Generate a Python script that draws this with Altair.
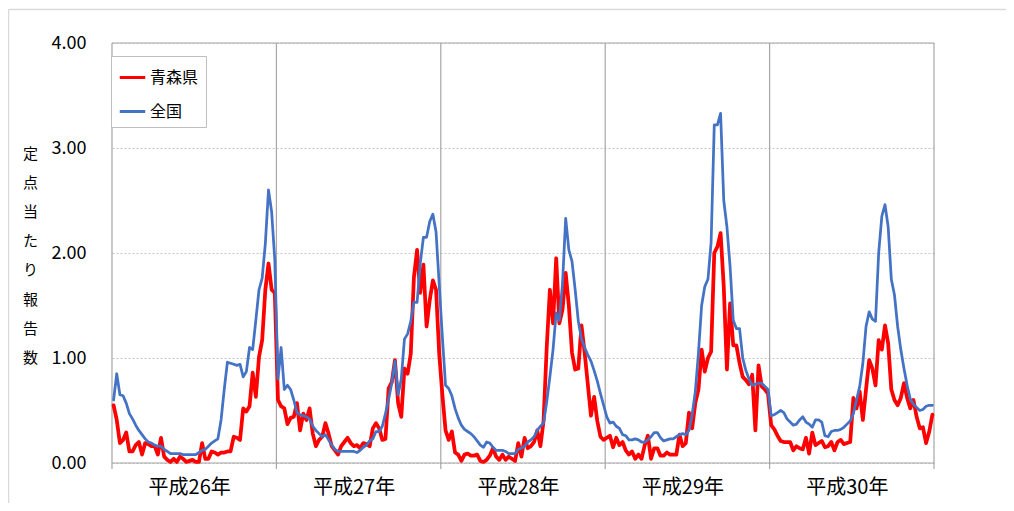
import json
import altair as alt
import pandas as pd

FONT = "Noto Sans CJK JP"

years = ["平成26年", "平成27年", "平成28年", "平成29年", "平成30年"]
series_names = ["青森県", "全国"]
series_colors = ["#FF0000", "#4472C4"]
y_title = "定点当たり報告数"
y_ticks = [0, 1, 2, 3, 4]

# 青森県 (weekly, 52 weeks per year)
aomori_h26 = [0.55, 0.41, 0.19, 0.22, 0.29, 0.11, 0.11, 0.17, 0.20, 0.08,
              0.19, 0.18, 0.16, 0.16, 0.08, 0.24, 0.06, 0.03, 0.01, 0.04,
              0.01, 0.06, 0.04, 0.01, 0.02, 0.03, 0.01, 0.01, 0.19, 0.04,
              0.04, 0.11, 0.10, 0.08, 0.10, 0.10, 0.11, 0.11, 0.25, 0.24,
              0.22, 0.52, 0.49, 0.54, 0.86, 0.63, 1.01, 1.17, 1.65, 1.90,
              1.65, 1.62]
aomori_h27 = [0.60, 0.54, 0.52, 0.37, 0.43, 0.44, 0.57, 0.31, 0.47, 0.41,
              0.52, 0.28, 0.16, 0.22, 0.25, 0.38, 0.28, 0.16, 0.12, 0.08,
              0.16, 0.20, 0.24, 0.19, 0.16, 0.17, 0.14, 0.19, 0.18, 0.16,
              0.33, 0.38, 0.33, 0.22, 0.23, 0.71, 0.77, 0.98, 0.57, 0.44,
              0.90, 0.85, 1.04, 1.77, 2.03, 1.62, 1.89, 1.30, 1.55, 1.74,
              1.65, 1.04]
aomori_h28 = [0.65, 0.31, 0.22, 0.30, 0.10, 0.08, 0.02, 0.08, 0.09, 0.07,
              0.07, 0.08, 0.02, 0.01, 0.03, 0.07, 0.14, 0.06, 0.03, 0.08,
              0.03, 0.06, 0.04, 0.02, 0.19, 0.06, 0.24, 0.14, 0.16, 0.20,
              0.31, 0.16, 0.40, 1.10, 1.65, 1.33, 1.95, 1.33, 1.46, 1.81,
              1.50, 1.05, 0.89, 0.90, 1.31, 1.05, 0.75, 0.45, 0.63, 0.40,
              0.25, 0.22]
aomori_h29 = [0.24, 0.26, 0.15, 0.24, 0.17, 0.20, 0.12, 0.08, 0.11, 0.04,
              0.08, 0.04, 0.17, 0.26, 0.04, 0.14, 0.14, 0.07, 0.07, 0.10,
              0.08, 0.08, 0.08, 0.27, 0.16, 0.19, 0.48, 0.33, 0.57, 0.70,
              1.08, 0.87, 1.00, 1.06, 2.00, 2.06, 2.19, 1.68, 0.89, 1.52,
              1.12, 1.12, 0.95, 0.82, 0.79, 0.75, 0.84, 0.31, 0.93, 0.73,
              0.70, 0.66]
aomori_h30 = [0.36, 0.32, 0.26, 0.21, 0.20, 0.20, 0.20, 0.12, 0.16, 0.14,
              0.13, 0.24, 0.09, 0.29, 0.17, 0.19, 0.21, 0.15, 0.16, 0.20,
              0.12, 0.20, 0.22, 0.18, 0.19, 0.20, 0.62, 0.52, 0.68, 0.41,
              0.70, 0.98, 0.90, 0.74, 1.17, 1.08, 1.31, 1.14, 0.70, 0.60,
              0.55, 0.62, 0.76, 0.62, 0.52, 0.60, 0.44, 0.33, 0.34, 0.19,
              0.30, 0.46]

# 全国
zenkoku_h26 = [0.60, 0.85, 0.65, 0.64, 0.57, 0.47, 0.42, 0.36, 0.31, 0.27,
               0.23, 0.20, 0.19, 0.17, 0.16, 0.16, 0.13, 0.11, 0.09, 0.09,
               0.09, 0.09, 0.08, 0.08, 0.08, 0.08, 0.08, 0.10, 0.12, 0.13,
               0.16, 0.19, 0.21, 0.23, 0.41, 0.70, 0.96, 0.95, 0.94, 0.93,
               0.94, 0.82, 0.87, 1.10, 1.08, 1.36, 1.65, 1.76, 2.09, 2.60,
               2.39, 1.93]
zenkoku_h27 = [0.80, 1.10, 0.70, 0.74, 0.70, 0.60, 0.48, 0.46, 0.45, 0.44,
               0.42, 0.35, 0.31, 0.28, 0.25, 0.27, 0.22, 0.17, 0.13, 0.11,
               0.11, 0.11, 0.11, 0.11, 0.11, 0.10, 0.12, 0.15, 0.17, 0.21,
               0.23, 0.30, 0.30, 0.35, 0.47, 0.61, 0.76, 0.97, 0.65, 0.80,
               1.18, 1.23, 1.35, 1.53, 1.53, 1.90, 2.15, 2.15, 2.30, 2.37,
               2.20, 1.70]
zenkoku_h28 = [1.20, 0.74, 0.71, 0.64, 0.52, 0.43, 0.36, 0.32, 0.30, 0.28,
               0.25, 0.21, 0.17, 0.15, 0.20, 0.19, 0.15, 0.12, 0.12, 0.12,
               0.11, 0.09, 0.09, 0.09, 0.13, 0.14, 0.16, 0.20, 0.22, 0.25,
               0.31, 0.35, 0.38, 0.58, 0.82, 1.08, 1.43, 1.36, 1.71, 2.33,
               2.03, 1.92, 1.65, 1.35, 1.18, 1.10, 1.03, 0.97, 0.88, 0.78,
               0.66, 0.55]
zenkoku_h29 = [0.44, 0.38, 0.39, 0.35, 0.33, 0.27, 0.26, 0.22, 0.22, 0.23,
               0.22, 0.20, 0.20, 0.22, 0.25, 0.29, 0.29, 0.24, 0.21, 0.22,
               0.23, 0.23, 0.25, 0.27, 0.28, 0.27, 0.31, 0.46, 0.68, 1.05,
               1.50, 1.68, 1.75, 2.10, 3.22, 3.22, 3.33, 2.50, 2.25, 1.87,
               1.36, 1.28, 1.28, 1.00, 0.88, 0.80, 0.74, 0.75, 0.76, 0.76,
               0.73, 0.70]
zenkoku_h30 = [0.45, 0.46, 0.48, 0.50, 0.48, 0.42, 0.39, 0.36, 0.37, 0.41,
               0.44, 0.39, 0.37, 0.34, 0.41, 0.41, 0.39, 0.26, 0.25, 0.30,
               0.31, 0.31, 0.32, 0.34, 0.37, 0.40, 0.47, 0.60, 0.73, 0.95,
               1.30, 1.44, 1.37, 1.35, 2.00, 2.35, 2.46, 2.25, 1.75, 1.60,
               1.30, 1.08, 0.90, 0.74, 0.61, 0.56, 0.53, 0.50, 0.51, 0.54,
               0.55, 0.55]

aomori = aomori_h26 + aomori_h27 + aomori_h28 + aomori_h29 + aomori_h30
zenkoku = zenkoku_h26 + zenkoku_h27 + zenkoku_h28 + zenkoku_h29 + zenkoku_h30

weeks = len(aomori_h26)
n = len(aomori)

df = pd.DataFrame({
    "week": [i + 0.5 for i in range(n)] * 2,
    "value": aomori + zenkoku,
    "series": [series_names[0]] * n + [series_names[1]] * n,
})
bounds_df = pd.DataFrame({"b": [k * weeks for k in range(len(years) + 1)]})
hline_df = pd.DataFrame({"v": [y_ticks[0], y_ticks[-1]]})
frame_df = pd.DataFrame({"k": [0]})

W, H = 822, 420
PAD = {"left": 104, "top": 35, "right": 72, "bottom": 40}

x_scale = alt.Scale(domain=[0, n], nice=False, zero=False)
y_scale = alt.Scale(domain=[y_ticks[0], y_ticks[-1]], nice=False)
color_scale = alt.Scale(domain=series_names, range=series_colors)

label_expr = json.dumps(years, ensure_ascii=False) + f"[floor(datum.value / {weeks})]"

x_axis = alt.Axis(
    values=[k * weeks + weeks / 2 for k in range(len(years))],
    labelExpr=label_expr, domain=False, ticks=False, tickSize=0, grid=False,
    labelFont=FONT, labelFontSize=20, labelColor="#000000",
    labelPadding=14, labelOffset=-5, title=None,
)
y_axis = alt.Axis(
    values=y_ticks, format=".2f", domain=False, ticks=False, tickSize=0,
    grid=True, gridColor="#C4C4C4", gridDash=[2, 2], gridWidth=1,
    labelFont=FONT, labelFontSize=18, labelColor="#000000", labelPadding=26,
    title=list(y_title), titleAngle=0, titleX=-82, titleY=103,
    titleAlign="center", titleBaseline="top", titleFont=FONT,
    titleFontSize=15, titleFontWeight="normal", titleLineHeight=29.2,
    titleColor="#000000",
)
legend = alt.Legend(
    orient="none", legendX=-1, legendY=13, title=None,
    symbolType="stroke", symbolSize=650, symbolStrokeWidth=3,
    labelFont=FONT, labelFontSize=16, labelColor="#000000", labelOffset=3,
    padding=7, rowPadding=11, strokeColor="#BFBFBF", fillColor="#FFFFFF",
    cornerRadius=0,
)

GRAY = "#A6A6A6"

frame_top = alt.Chart(frame_df).mark_rule(color="#D9D9D9", strokeWidth=1.5).encode(
    x=alt.value(-PAD["left"] + 0.5), x2=alt.value(W + PAD["right"]),
    y=alt.value(-PAD["top"] + 1.5),
)
frame_left = alt.Chart(frame_df).mark_rule(color="#D9D9D9", strokeWidth=1.5).encode(
    x=alt.value(-PAD["left"] + 0.5),
    y=alt.value(-PAD["top"] + 1.5), y2=alt.value(H + PAD["bottom"]),
)
seps = alt.Chart(bounds_df).mark_rule(color=GRAY, strokeWidth=1.2).encode(
    x=alt.X("b:Q", scale=x_scale, axis=x_axis),
    y=alt.value(0), y2=alt.value(H + 6),
)
hlines = alt.Chart(hline_df).mark_rule(color=GRAY, strokeWidth=1.2).encode(
    y=alt.Y("v:Q", scale=y_scale, axis=y_axis),
    x=alt.datum(0), x2=alt.datum(n),
)

def series_line(name, width):
    return alt.Chart(df).transform_filter(alt.datum.series == name).mark_line(
        strokeWidth=width, strokeJoin="round", strokeCap="round"
    ).encode(
        x=alt.X("week:Q", scale=x_scale, axis=x_axis),
        y=alt.Y("value:Q", scale=y_scale, axis=y_axis),
        color=alt.Color("series:N", scale=color_scale, legend=legend),
    )

red = series_line(series_names[0], 3.75)
blue = series_line(series_names[1], 2.75)

chart = alt.layer(frame_top, frame_left, seps, hlines, red, blue).properties(
    width=W, height=H, padding=PAD,
    autosize=alt.AutoSizeParams(type="none"),
    background="#FFFFFF",
).configure_view(stroke="transparent")

chart.save("out.html", embed_options={"renderer": "svg", "actions": False})
